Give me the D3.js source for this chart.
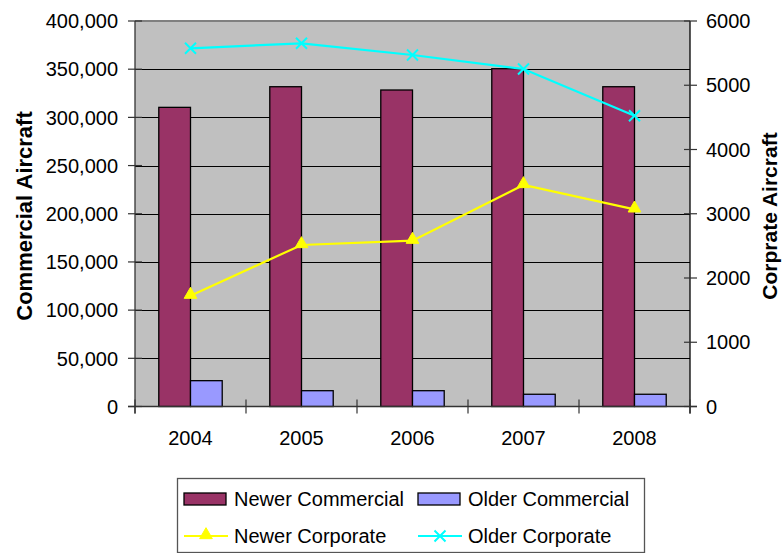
<!DOCTYPE html>
<html><head><meta charset="utf-8">
<script src="https://cdn.jsdelivr.net/npm/d3@7"></script>
<style>body{margin:0;background:#fff}svg{display:block}text{font-family:"Liberation Sans",Arial,sans-serif}</style>
</head><body><svg id="c" width="783" height="553"></svg>
<script>
const years = ["2004","2005","2006","2007","2008"];
const newerCommercial = [310400, 331800, 328400, 350500, 331800];
const olderCommercial = [26800, 16400, 16400, 12700, 12700];
const newerCorporate = [1725, 2514, 2581, 3448, 3069];
const olderCorporate = [5575, 5653, 5471, 5253, 4526];
const leftTicks = [0,50000,100000,150000,200000,250000,300000,350000,400000];
const rightTicks = [0,1000,2000,3000,4000,5000,6000];
const seriesNames = ["Newer Commercial","Older Commercial","Newer Corporate","Older Corporate"];
const colors = {nc:"#993366", oc:"#9999FF", ncorp:"#FFFF00", ocorp:"#00FFFF"};

const svg = d3.select("#c");
const L=135, R=690, T=21, B=406.5;
const x = d3.scaleBand().domain(years).range([L,R]).paddingInner(0);
const yL = d3.scaleLinear().domain([0,400000]).range([B,T]);
const yR = d3.scaleLinear().domain([0,6000]).range([B,T]);
const bw = x.bandwidth()/3.5;

svg.append("rect").attr("x",L).attr("y",T).attr("width",R-L).attr("height",B-T).attr("fill","#C0C0C0");
// gridlines
svg.selectAll(".g").data(leftTicks.filter(d=>d>0&&d<400000)).enter().append("line")
  .attr("x1",L).attr("x2",R).attr("y1",d=>Math.round(yL(d))+0.5).attr("y2",d=>Math.round(yL(d))+0.5)
  .attr("stroke","#000").attr("stroke-width",1);
svg.append("line").attr("x1",L).attr("x2",R).attr("y1",T).attr("y2",T).attr("stroke","#808080").attr("stroke-width",2);

// bars
const g = svg.append("g");
years.forEach((yr,i)=>{
  const cx = x(yr)+x.bandwidth()/2;
  g.append("rect").attr("x",cx-bw).attr("y",yL(newerCommercial[i])).attr("width",bw).attr("height",B-yL(newerCommercial[i]))
    .attr("fill",colors.nc).attr("stroke","#000").attr("stroke-width",1.3);
  g.append("rect").attr("x",cx).attr("y",yL(olderCommercial[i])).attr("width",bw).attr("height",B-yL(olderCommercial[i]))
    .attr("fill",colors.oc).attr("stroke","#000").attr("stroke-width",1.3);
});

// axes lines
svg.append("line").attr("x1",L).attr("x2",L).attr("y1",T).attr("y2",B+7).attr("stroke","#333").attr("stroke-width",1.3);
svg.append("line").attr("x1",R).attr("x2",R).attr("y1",T).attr("y2",B+7).attr("stroke","#000").attr("stroke-width",1.3);
svg.append("line").attr("x1",L-7).attr("x2",R+7).attr("y1",B).attr("y2",B).attr("stroke","#333").attr("stroke-width",1.3);

// left ticks
const lt = svg.append("g").selectAll("g").data(leftTicks).enter().append("g").attr("transform",d=>`translate(0,${yL(d)})`);
lt.append("line").attr("x1",L-7).attr("x2",L+7).attr("stroke","#333").attr("stroke-width",1.2);
lt.append("text").attr("x",L-17).attr("dy","0.36em").attr("text-anchor","end").attr("font-size",20).text(d=>d3.format(",")(d));
// right ticks
const rt = svg.append("g").selectAll("g").data(rightTicks).enter().append("g").attr("transform",d=>`translate(0,${yR(d)})`);
rt.append("line").attr("x1",R-6).attr("x2",R+7).attr("stroke","#333").attr("stroke-width",1.2);
rt.append("text").attr("x",R+16).attr("dy","0.36em").attr("text-anchor","start").attr("font-size",20).text(d=>d);
// x ticks
const xb = years.map(y=>x(y)).concat([R]);
svg.selectAll(".xt").data(xb).enter().append("line").attr("x1",d=>d).attr("x2",d=>d).attr("y1",B-7).attr("y2",B+7).attr("stroke","#333").attr("stroke-width",1.2);
svg.selectAll(".xl").data(years).enter().append("text").attr("x",d=>x(d)+x.bandwidth()/2).attr("y",445)
  .attr("text-anchor","middle").attr("font-size",20).text(d=>d);

// lines
const tri = d3.symbol().type(d3.symbolTriangle).size(70);
function drawLine(vals,color,marker){
  const pts = vals.map((v,i)=>[x(years[i])+x.bandwidth()/2, yR(v)]);
  svg.append("path").attr("d",d3.line()(pts)).attr("fill","none").attr("stroke",color).attr("stroke-width",2.2);
  pts.forEach(p=>drawMarker(p[0],p[1],color,marker));
}
function drawMarker(px,py,color,marker){
  if(marker==="tri"){
    svg.append("path").attr("d",tri()).attr("transform",`translate(${px},${py-1})`).attr("fill",color).attr("stroke",color).attr("stroke-width",1);
  } else {
    const s=5.5;
    svg.append("path").attr("d",`M${px-s},${py-s}L${px+s},${py+s}M${px-s},${py+s}L${px+s},${py-s}`).attr("stroke",color).attr("stroke-width",2);
  }
}
drawLine(olderCorporate,colors.ocorp,"x");
drawLine(newerCorporate,colors.ncorp,"tri");

// axis titles
svg.append("text").attr("transform","translate(32,216) rotate(-90)").attr("text-anchor","middle").attr("font-size",22).attr("font-weight","bold").text("Commercial Aircraft");
svg.append("text").attr("transform","translate(777,216) rotate(-90)").attr("text-anchor","middle").attr("font-size",21).attr("font-weight","bold").text("Corprate Aircraft");

// legend
svg.append("rect").attr("x",177.5).attr("y",478.5).attr("width",467).attr("height",74).attr("fill","#fff").attr("stroke","#555").attr("stroke-width",1.3);
const lg = [
  {name:seriesNames[0], type:"bar", color:colors.nc, x:184, y:499},
  {name:seriesNames[1], type:"bar", color:colors.oc, x:418, y:499},
  {name:seriesNames[2], type:"line", color:colors.ncorp, marker:"tri", x:184, y:536},
  {name:seriesNames[3], type:"line", color:colors.ocorp, marker:"x", x:418, y:536}
];
lg.forEach(d=>{
  if(d.type==="bar"){
    svg.append("rect").attr("x",d.x).attr("y",d.y-6).attr("width",42).attr("height",12).attr("fill",d.color).attr("stroke","#000").attr("stroke-width",1.3);
  } else {
    svg.append("line").attr("x1",d.x).attr("x2",d.x+44).attr("y1",d.y).attr("y2",d.y).attr("stroke",d.color).attr("stroke-width",2.2);
    drawMarker(d.x+22,d.y,d.color,d.marker);
  }
  svg.append("text").attr("x",d.x+50).attr("y",d.y+7).attr("font-size",20).text(d.name);
});
</script></body></html>
